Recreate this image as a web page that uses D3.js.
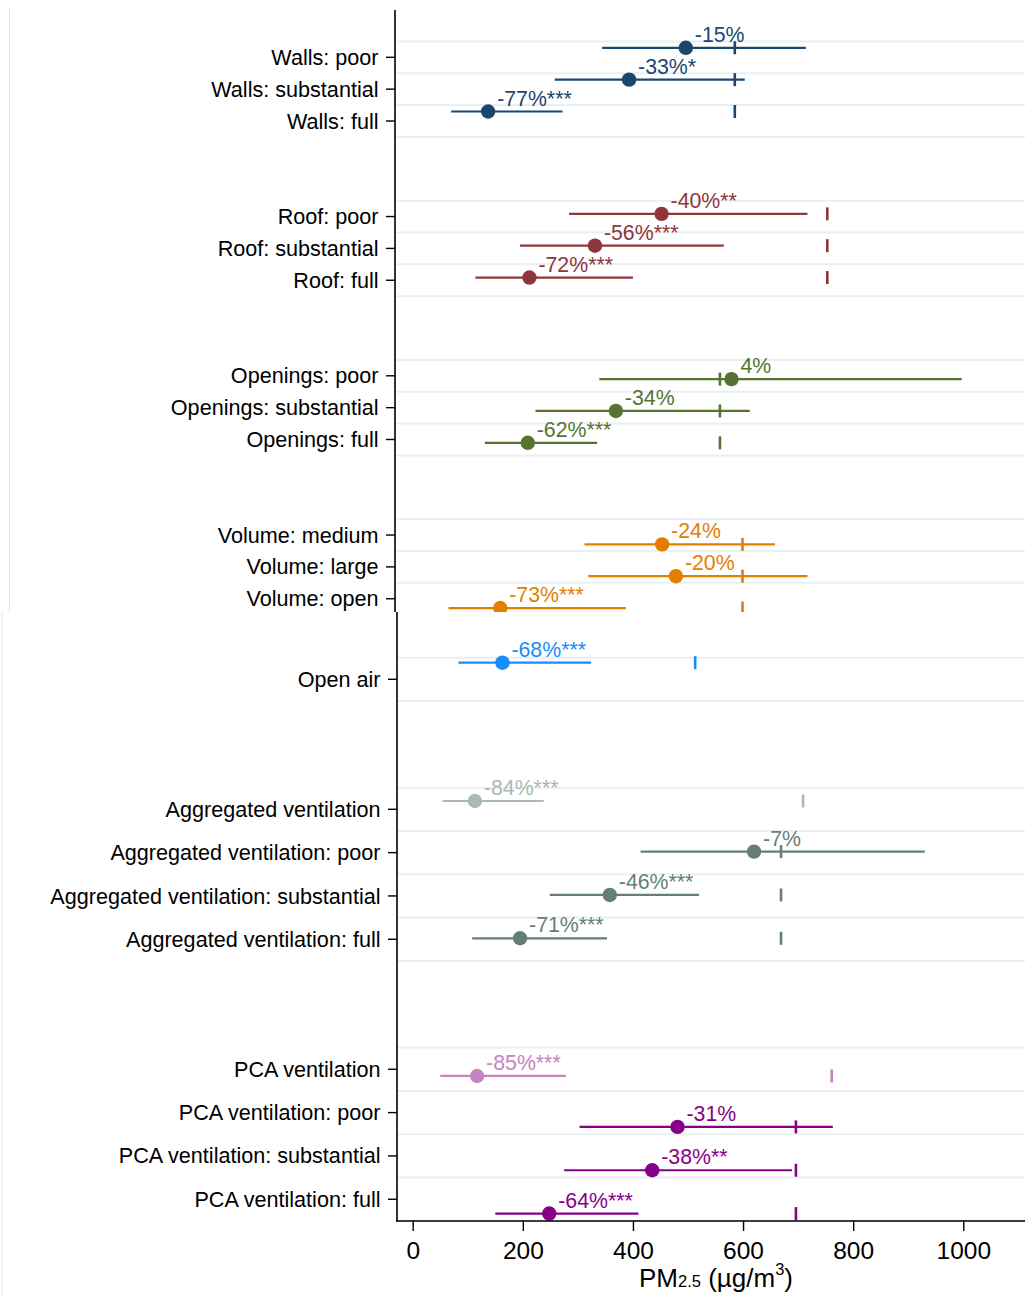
<!DOCTYPE html>
<html>
<head>
<meta charset="utf-8">
<script src="https://cdn.jsdelivr.net/npm/d3@7"></script>
<style>
  html, body { margin: 0; padding: 0; background: #fff; }
  svg { display: block; }
  text { font-family: "Liberation Sans", Arial, sans-serif; }
</style>
</head>
<body>
<svg id="chart" width="1025" height="1296"></svg>
<script>
// ---------------- DATA ----------------
// Top figure (building components)
const topCategories = [
  "Walls: poor", "Walls: substantial", "Walls: full",
  "Roof: poor", "Roof: substantial", "Roof: full",
  "Openings: poor", "Openings: substantial", "Openings: full",
  "Volume: medium", "Volume: large", "Volume: open"
];
const topGroup = [0,0,0, 1,1,1, 2,2,2, 3,3,3];
const topEstimate = [496, 393, 137, 452, 331, 212, 579, 369, 209, 453, 478, 159];
const topCiLow    = [344, 258,  70, 284, 195, 114, 339, 223, 131, 312, 319,  65];
const topCiHigh   = [714, 603, 272, 717, 565, 400, 997, 612, 335, 658, 717, 387];
const topRef      = [585, 585, 585, 753, 753, 753, 558, 558, 558, 599, 599, 599];
const topLabels   = ["-15%", "-33%*", "-77%***", "-40%**", "-56%***", "-72%***",
                     "4%", "-34%", "-62%***", "-24%", "-20%", "-73%***"];
const topColors   = ["#1a476f", "#90353b", "#55752f", "#e37e00"];

// Bottom figure (open air / ventilation indices)
const botCategories = [
  "Open air",
  "Aggregated ventilation", "Aggregated ventilation: poor",
  "Aggregated ventilation: substantial", "Aggregated ventilation: full",
  "PCA ventilation", "PCA ventilation: poor",
  "PCA ventilation: substantial", "PCA ventilation: full"
];
const botGroup    = [0, 1, 2, 2, 2, 3, 4, 4, 4];
const botEstimate = [163, 113, 620, 358, 195, 117, 481, 435, 248];
const botCiLow    = [ 83,  54, 414, 249, 108,  50, 303, 275, 150];
const botCiHigh   = [324, 238, 930, 520, 353, 278, 763, 689, 410];
const botRef      = [513, 709, 669, 669, 669, 761, 696, 696, 696];
const botLabels   = ["-68%***", "-84%***", "-7%", "-46%***", "-71%***",
                     "-85%***", "-31%", "-38%**", "-64%***"];
const botColors   = ["#168cff", "#a9bab4", "#647f74", "#c585c0", "#880088"];

const xTickValues = [0, 200, 400, 600, 800, 1000];

// ---------------- LAYOUT ----------------
const W = 1025, H = 1296;
const svg = d3.select("#chart");
const FONT = "Liberation Sans, Arial, sans-serif";

const x = d3.scaleLinear().domain([0, 1000]).range([412.7, 963.3]);

// slot layout (rows, with empty slots between blocks)
const topSlots = [0,1,2, 5,6,7, 10,11,12, 15,16,17];
const topBlocks = [[0,2],[5,7],[10,12],[15,17]];
const topGroupShift = [-9.5, -2.7, 3.3, 9.3];
const yTop = d3.scaleLinear().domain([0, 1]).range([57.3, 89.15]);

const botSlots = [0, 3,4,5,6, 9,10,11,12];
const botBlocks = [[0,0],[3,6],[9,12]];
const botGroupShift = [-16.6, -8.3, -1, 6.7, 14.3];
const yBot = d3.scaleLinear().domain([0, 1]).range([679.3, 722.63]);

const GRID = "#e9f0f2";

function drawPanel(g, cfg) {
  const { y, slots, blocks, shift, groups, est, lo, hi, ref, labels, colors, cats, axisX, axisTop, axisBottom } = cfg;
  // gridlines at slot boundaries inside each block
  const gridY = [];
  blocks.forEach(([a, b]) => { for (let s = a; s <= b + 1; s++) gridY.push(y(s - 0.5)); });
  g.selectAll("line.grid").data(gridY).join("line")
    .attr("class", "grid")
    .attr("x1", axisX).attr("x2", W)
    .attr("y1", d => d).attr("y2", d => d)
    .attr("stroke", GRID).attr("stroke-width", 2);

  // y axis
  g.append("line").attr("x1", axisX).attr("x2", axisX)
    .attr("y1", axisTop).attr("y2", axisBottom)
    .attr("stroke", "#000").attr("stroke-width", 1.6);
  const ticks = g.selectAll("g.ytick").data(cats).join("g").attr("class", "ytick")
    .attr("transform", (d, i) => `translate(0,${y(slots[i])})`);
  ticks.append("line").attr("x1", axisX - 9).attr("x2", axisX)
    .attr("stroke", "#000").attr("stroke-width", 1.4);
  ticks.append("text").attr("x", axisX - 16.5).attr("dy", "0.35em")
    .attr("text-anchor", "end").attr("font-size", 21.6).attr("fill", "#000")
    .text(d => d);

  const rows = cats.map((c, i) => ({
    yy: y(slots[i]) + shift[groups[i]],
    est: est[i], lo: lo[i], hi: hi[i], ref: ref[i], lab: labels[i], col: colors[groups[i]]
  }));
  const rg = g.selectAll("g.row").data(rows).join("g").attr("class", "row");
  // CI bars
  rg.append("line")
    .attr("x1", d => x(d.lo)).attr("x2", d => x(d.hi))
    .attr("y1", d => d.yy).attr("y2", d => d.yy)
    .attr("stroke", d => d.col).attr("stroke-width", 2.2);
  // reference ticks
  rg.append("line")
    .attr("x1", d => x(d.ref)).attr("x2", d => x(d.ref))
    .attr("y1", d => d.yy - 6.5).attr("y2", d => d.yy + 6.5)
    .attr("stroke", d => d.col).attr("stroke-width", 2.6);
  // markers
  rg.append("circle")
    .attr("cx", d => x(d.est)).attr("cy", d => d.yy).attr("r", 7.2)
    .attr("fill", d => d.col);
  // labels
  rg.append("text")
    .attr("x", d => x(d.est) + 9).attr("y", d => d.yy - 6)
    .attr("font-size", 21.3).attr("fill", d => d.col)
    .text(d => d.lab);
}

// ----- top figure (clipped at its bottom edge) -----
svg.append("defs").append("clipPath").attr("id", "clipTop")
  .append("rect").attr("x", 0).attr("y", 0).attr("width", W).attr("height", 612);
const gTop = svg.append("g").attr("clip-path", "url(#clipTop)");
gTop.append("line").attr("x1", 9.5).attr("x2", 9.5).attr("y1", 8).attr("y2", 612)
  .attr("stroke", "#e2e8ea").attr("stroke-width", 1);
drawPanel(gTop, {
  y: yTop, slots: topSlots, blocks: topBlocks, shift: topGroupShift, groups: topGroup,
  est: topEstimate, lo: topCiLow, hi: topCiHigh, ref: topRef, labels: topLabels,
  colors: topColors, cats: topCategories, axisX: 395, axisTop: 10, axisBottom: 612
});

// ----- bottom figure -----
const gBot = svg.append("g");
gBot.append("rect").attr("x", 2).attr("y", 612).attr("width", W - 2).attr("height", H - 612)
  .attr("fill", "#fff");
gBot.append("line").attr("x1", 2).attr("x2", 2).attr("y1", 612).attr("y2", H)
  .attr("stroke", "#e2e8ea").attr("stroke-width", 1);
drawPanel(gBot, {
  y: yBot, slots: botSlots, blocks: botBlocks, shift: botGroupShift, groups: botGroup,
  est: botEstimate, lo: botCiLow, hi: botCiHigh, ref: botRef, labels: botLabels,
  colors: botColors, cats: botCategories, axisX: 397, axisTop: 612, axisBottom: 1221.5
});

// x axis
const axisY = 1221;
const xAxis = d3.axisBottom(x).tickValues(xTickValues).tickSize(10).tickPadding(11)
  .tickFormat(d3.format("d"));
const gx = gBot.append("g").attr("transform", `translate(0,${axisY})`).call(xAxis);
gx.select(".domain").remove();
gx.selectAll(".tick line").attr("stroke", "#000").attr("stroke-width", 1.4);
gx.selectAll(".tick text").attr("font-size", 24.5).attr("font-family", FONT).attr("fill", "#000");
gBot.append("line").attr("x1", 396).attr("x2", W).attr("y1", axisY).attr("y2", axisY)
  .attr("stroke", "#000").attr("stroke-width", 1.6);

// axis title
const title = gBot.append("text").attr("x", 716).attr("y", 1287)
  .attr("text-anchor", "middle").attr("font-size", 26).attr("fill", "#000");
title.append("tspan").text("PM");
title.append("tspan").attr("font-size", 16.5).text("2.5");
title.append("tspan").text(" (µg/m");
title.append("tspan").attr("font-size", 16.5).attr("dy", -12).text("3");
title.append("tspan").attr("dy", 12).text(")");
</script>
</body>
</html>
